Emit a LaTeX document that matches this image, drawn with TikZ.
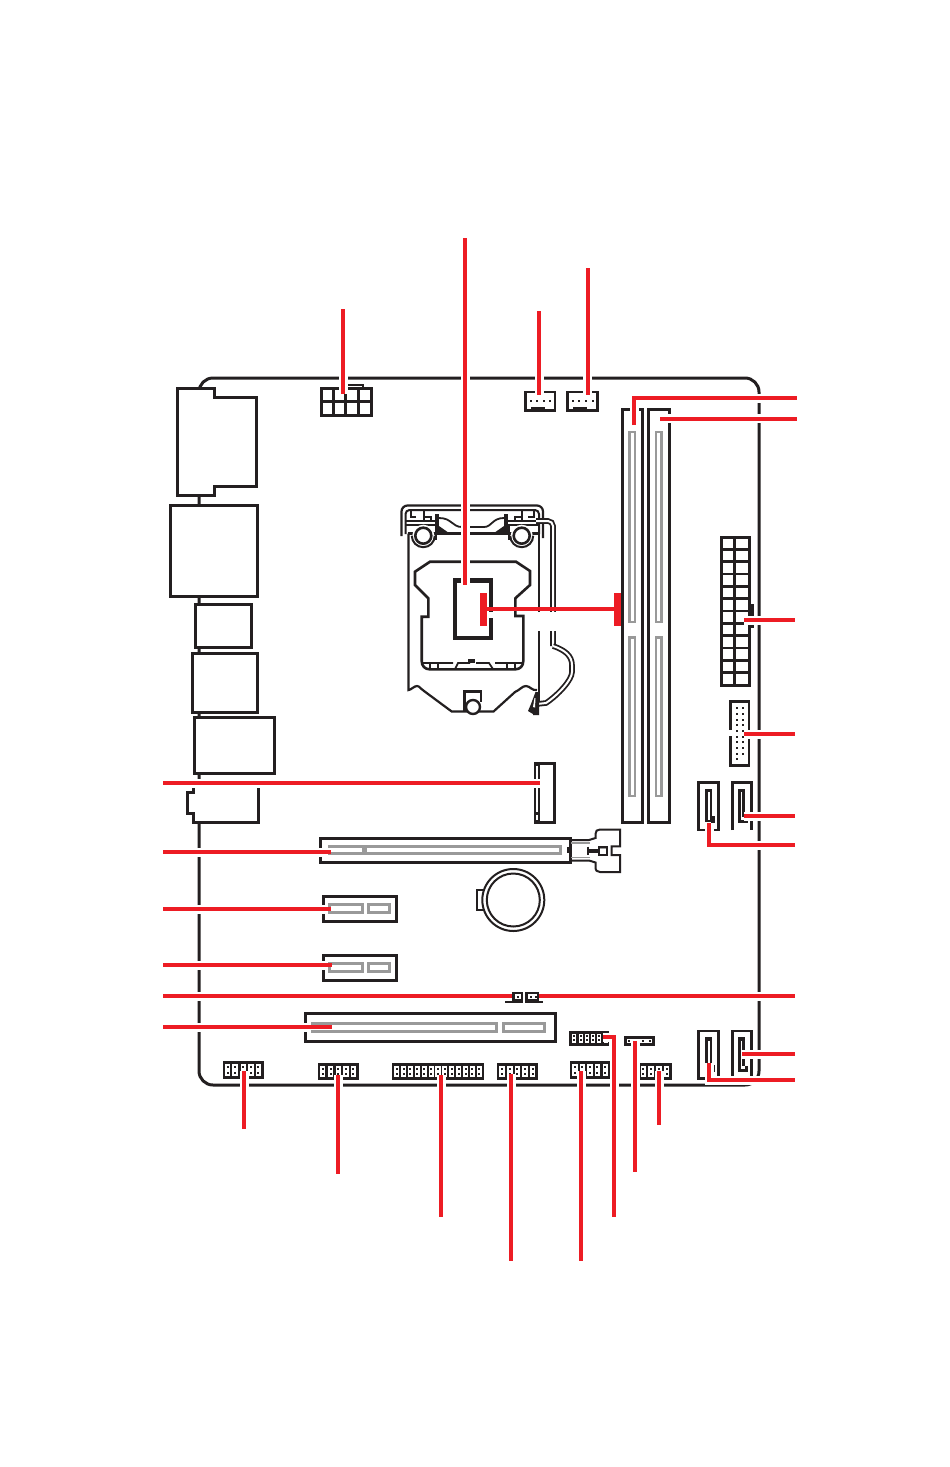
\documentclass[tikz,border=0pt]{standalone}
\definecolor{ink}{HTML}{231F20}
\definecolor{rail}{HTML}{999999}
\definecolor{lead}{HTML}{ED1C24}
\tikzset{
  x=1pt,y=-1pt,
  part/.style={draw=ink,line width=3pt,fill=white,miter limit=10},
  thin part/.style={draw=ink,line width=2.2pt},
  railbox/.style={draw=rail,line width=3pt},
  halo/.style={draw=white,line width=9pt},
  leadline/.style={draw=lead,line width=4pt},
  handle/.style={draw=ink,line width=1.8pt,double=white,double distance=2pt},
  pin/.style={fill=ink,draw=none},
}
\newcommand{\leadpath}[1]{\draw[halo] #1; \draw[leadline] #1;}
\newcommand{\slotp}[3]{\fill[white] (#1-2.6,#2) rectangle (#1+2.6,#3);
  \fill[pin] (#1-1,#2+2) rectangle (#1+1,#2+4);
  \fill[pin] (#1-1,#3-4) rectangle (#1+1,#3-2);}
\begin{document}
\begin{tikzpicture}
\useasboundingbox (0,0) rectangle (950,1467);
\fill[white] (0,0) rectangle (950,1467);
% board
\draw[draw=ink,line width=3pt,rounded corners=14pt] (199,700) -- (199,378) -- (759,378) -- (759,1085) -- (199,1085) -- cycle;
% rear IO
\draw[part] (177,388) -- (214.7,388) -- (214.7,397.5) -- (256,397.5) -- (256,486.7) -- (214.7,486.7) -- (214.7,495.7) -- (177,495.7) -- cycle;
\draw[part] (170,505.5) rectangle (257.7,596);
\draw[part] (195,604.5) rectangle (251.7,647.5);
\draw[part] (192.5,653.5) rectangle (257.7,712.7);
\draw[part] (194,717.5) rectangle (274.7,773.7);
\draw[part] (258.7,786) -- (258.7,822.3) -- (193,822.3) -- (193,813) -- (187,813) -- (187,792.3) -- (193,792.3) -- (193,786);
% 8-pin power
\draw[part] (321,388.3) rectangle (371,415.7);
\draw[thin part,line width=2.6pt] (321,401.7) -- (371,401.7) (333.3,388.3) -- (333.3,415.7) (345.7,388.3) -- (345.7,415.7) (358.3,388.3) -- (358.3,415.7);
\draw[thin part] (345.7,388) -- (345.7,384.7) -- (363,384.7) -- (363,388);
% fan headers
\foreach \xa/\xb/\ba/\bb/\pa/\pb/\pc/\pd in {525.7/555/530.7/545/530.7/537.3/544/550.3, 567.7/597.3/572.7/586.7/572.7/579.3/586/592.7}{
  \draw[part,line width=2.6pt] (\xa,392) rectangle (\xb,410.5);
  \fill[ink] (\ba,406.5) rectangle (\bb,410.5);
  \foreach \p in {\pa,\pb,\pc,\pd} \fill[pin] (\p-1,399.7) rectangle (\p+1,401.7);
}
% DIMM slots
\draw[part] (622.5,409) rectangle (642.7,822.3);
\draw[part] (648.3,409) rectangle (669.3,822.3);
\foreach \a/\b in {628.3/636,655/662.7}{
  \draw[railbox,line width=2.6pt] (\a+1,432) rectangle (\b-1,622);
  \draw[railbox,line width=2.6pt] (\a+1,796) -- (\a+1,637.5) -- (\b-1,637.5) -- (\b-1,796) -- cycle;
}
% ATX 24
\draw[thin part,line width=2.6pt] (749.3,605) -- (752.7,605) -- (752.7,626.7) -- (749.3,626.7);
\draw[part] (721.5,537) rectangle (749.3,685);
\foreach \i in {1,...,11} \draw[draw=ink,line width=2.6pt] (721.5,537+12.33*\i) -- (749.3,537+12.33*\i);
\draw[draw=ink,line width=2.6pt] (734.5,537) -- (734.5,685);
% front USB 3
\draw[part,line width=2.8pt] (730.5,701.5) rectangle (749,765.5);
\fill[white] (728,730) rectangle (733,736);
\foreach \i in {0,...,9} \fill[pin] (736,707.3+5.68*\i) rectangle (738,709.3+5.68*\i);
\foreach \i in {0,...,8} \fill[pin] (741.5,707.3+5.68*\i) rectangle (743.5,709.3+5.68*\i);
% SATA connectors
\foreach \y in {0,248.5}{
  \draw[part,fill=white,line width=2.8pt] (698.8,830+\y) -- (698.8,782.5+\y) -- (718.8,782.5+\y) -- (718.8,830+\y) -- cycle;
  \fill[ink] (705,788.7+\y) rectangle (712,822+\y);
  \fill[white] (708,792+\y) rectangle (709.5,820+\y);
  \fill[ink] (711,816+\y) rectangle (714.5,823+\y);
  \draw[part,fill=white,line width=2.8pt] (732.8,830+\y) -- (732.8,782.5+\y) -- (751.5,782.5+\y) -- (751.5,830+\y);
  \fill[ink] (738,788.7+\y) rectangle (744.5,823+\y);
  \fill[white] (740.5,792+\y) rectangle (742,820+\y);
  \fill[ink] (744,817+\y) rectangle (748,823+\y);
  \fill[white] (742,817+\y) rectangle (744.5,820+\y);
}
% M.2
\draw[part] (535.5,763) rectangle (554.5,822.3);
\fill[ink] (534,762) rectangle (539.5,823.5);
\fill[white] (536,766) rectangle (538,820);
\fill[ink] (535,812) rectangle (539,814.5);
% CPU socket
\draw[thin part,line width=2.2pt,rounded corners=6pt] (401.5,536) -- (401.5,505.5) -- (543,505.5) -- (543,538);
\draw[thin part,line width=2pt,rounded corners=4pt] (405.5,534) -- (405.5,510) -- (539,510) -- (539,534);
\draw[thin part,line width=2.2pt] (408.5,533.5) -- (408.5,690) .. controls (411,690) and (414,686) .. (417,686) .. controls (420,686) and (421,690) .. (424,691) -- (451.7,711.5) -- (493.5,711.5) -- (515,692) .. controls (520,690) and (522,686) .. (526,686) .. controls (530,686) and (532,691) .. (537,690);
\draw[thin part,line width=2.2pt] (539,533.5) -- (539,705);
\draw[thin part,line width=2.2pt] (408,533.5) -- (416,533.5) (432,533.5) -- (513,533.5) (531,533.5) -- (540,533.5);
\draw[thin part,line width=2pt] (405,521) -- (437,521) (506,521) -- (540,521);
\draw[thin part,line width=2pt] (405,525) -- (437,525) (506,525) -- (540,525);
\draw[thin part,line width=2pt] (410.5,510) -- (410.5,517) -- (416,517) (424,510) -- (424,522) (423,517) -- (431,517) -- (431,522);
\draw[thin part,line width=2pt] (522,510) -- (522,522) (522,517) -- (515,517) -- (515,522) (534,510) -- (534,517) -- (528,517);
\fill[ink] (435,514) rectangle (439,532);
\fill[ink] (504,514) rectangle (508,532);
\fill[ink] (439,526) -- (449,533) -- (439,533) -- cycle;
\fill[ink] (504,526) -- (494,533) -- (504,533) -- cycle;
\draw[thin part,line width=1.8pt] (439,518) .. controls (452,518) and (452,527) .. (462,527) -- (484,527) .. controls (492,527) and (492,518) .. (504,518);
\foreach \c in {423.3,521.7}{
  \fill[white] (\c,535.7) circle[radius=11];
  \draw[thin part,fill=white,line width=2.6pt] (\c,535.7) circle[radius=8];
  \draw[thin part,line width=2pt] (\c-11.5,535.7) arc[start angle=180,end angle=0,radius=11.5];
}
\draw[thin part,line width=2pt] (436,525) -- (436,540) (509,525) -- (509,540);
\draw[handle,rounded corners=5pt] (536,521) -- (553,521) -- (553,646);
\draw[handle] (553,646) .. controls (565,650) and (572,656) .. (572,665) -- (572,672) .. controls (572,680) and (558,695) .. (546,703) -- (537,704);
\draw[thin part,line width=2.6pt,line join=miter,rounded corners=0pt] (430,561.7) -- (516,561.7) -- (530,571) -- (530,585) -- (515.3,598.3) -- (515.3,616) -- (523.3,616) -- (523.3,661) .. controls (523.3,666) and (520,669.3) .. (515.3,669.3) -- (429.7,669.3) .. controls (425,669.3) and (421.7,666) .. (421.7,661) -- (421.7,616.7) -- (428.3,616.7) -- (428.3,598.3) -- (415,585) -- (415,571.7) -- cycle;
\draw[thin part,line width=1.8pt] (422,663) -- (453,663) (455,669) -- (458,663) -- (470,663) (476,663) -- (489,663) -- (493,669) (495,663) -- (523,663) (430,663) -- (430,669) (438,663) -- (438,669) (507,663) -- (507,669) (515,663) -- (515,669);
\fill[ink] (468,659) rectangle (475,663);
\draw[draw=ink,line width=4.5pt] (455,580.5) rectangle (491.2,638);
\draw[thin part,line width=2.4pt] (464.5,711) -- (464.5,691.5) -- (481,691.5) -- (481,702);
\draw[thin part,fill=white,line width=2.4pt] (473,707) circle[radius=7];
\fill[ink] (535.5,692) -- (531,704) -- (528,711) -- (533,714) -- (533,715) -- (539,715) -- (539,692) -- cycle;
\fill[white] (534.5,698) -- (533,707) -- (535,707.5) -- (535.5,698) -- cycle;
% PCIe x16
\draw[part] (320.5,838.5) rectangle (570.5,862.5);
\draw[railbox,line width=2.8pt] (328.3,846.7) -- (560.5,846.7) -- (560.5,853.3) -- (328.3,853.3);
\fill[rail] (361.5,846) rectangle (367,853.5);
\fill[ink] (567,847) rectangle (571,853);
\draw[rail,line width=1.5pt] (571,843) -- (590,843) (571,857.5) -- (590,857.5) (598,848) -- (607,848);
\draw[thin part,line width=2pt] (571,840) -- (589,840) -- (595.5,838) -- (595.5,834) .. controls (595.5,831) and (597,829.5) .. (600,829.5) -- (620,829.5) -- (620,846.3) -- (611.5,846.3) -- (611.5,855) -- (620,855) -- (620,872) -- (600,872) .. controls (597,872) and (595.5,870.5) .. (595.5,867) -- (595.5,862.5) -- (589,860.5) -- (571,860.5);
\draw[thin part,line width=2pt] (588,846.5) -- (588,855);
\draw[thin part,line width=2pt] (588,849.7) -- (598.5,849.7) (588,852.3) -- (598.5,852.3);
\draw[thin part,line width=2pt] (598.5,846.5) rectangle (607.3,855);
% battery
\draw[thin part,line width=2pt] (485,889.5) -- (477,889.5) -- (477,910) -- (485,910);
\draw[draw=ink,line width=2pt,fill=white] (513.3,900) circle[radius=31];
\draw[draw=ink,line width=2pt] (513.3,900) circle[radius=26.5];
% PCIe x1
\foreach \y in {896.5,955.5}{
  \draw[part] (323.5,\y) rectangle (396.5,\y+24.5);
  \draw[railbox,line width=2.4pt] (329.5,\y+8) rectangle (362.5,\y+16);
  \draw[railbox,line width=2.4pt] (368.5,\y+8) rectangle (389.5,\y+16);
}
% PCI
\draw[part] (305.5,1013.5) rectangle (555.5,1041.5);
\draw[railbox] (311,1023) -- (496,1023) -- (496,1031) -- (311,1031);
\draw[railbox] (503,1023) rectangle (544.5,1031);
% jumper
\fill[ink] (512,991.7) rectangle (522.7,1002);
\fill[ink] (505,999) rectangle (522.7,1003);
\fill[ink] (525,991.7) rectangle (539,1002);
\fill[ink] (525,999) rectangle (542.5,1003);
\fill[white] (514.5,994) rectangle (520.5,999);
\fill[white] (527.5,994) rectangle (537,999);
\fill[pin] (516.5,995.5) rectangle (518.5,997.5);
\fill[pin] (529.5,995.5) rectangle (531.5,997.5);
\fill[pin] (535,995.5) rectangle (537,997.5);
% headers
\fill[ink] (223.3,1061) rectangle (264,1079);
\foreach \c in {227.7,235,243.3,251,258.3} \slotp{\c}{1064}{1076}
\fill[ink] (318.3,1063) rectangle (359,1080);
\foreach \c in {322.7,330.7,338.3,346,353.3} \slotp{\c}{1066}{1077}
\fill[ink] (392.3,1063) rectangle (484,1080);
\foreach \i in {0,...,12} {\pgfmathsetmacro{\c}{396.7+6.88*\i}\slotp{\c}{1066}{1077}}
\fill[ink] (497.3,1063) rectangle (538,1080);
\foreach \c in {502,510,517.3,525,532.7} \slotp{\c}{1066}{1077}
\fill[ink] (570,1061) rectangle (610,1079);
\foreach \c in {575,582.3,590,597.3,605.3} \slotp{\c}{1064}{1076}
\fill[ink] (569,1031) rectangle (609,1046);
\foreach \c in {574,581,586.7,592.7,599,605.7} {\fill[white] (\c-1.8,1034) rectangle (\c+1.8,1043);\fill[pin] (\c-.8,1035) rectangle (\c+.8,1037);\fill[pin] (\c-.8,1039) rectangle (\c+.8,1041);}
\fill[ink] (624,1036) rectangle (655,1046);
\fill[white] (627.3,1038.7) rectangle (652,1043.3);
\foreach \c in {629,643.3,650} \fill[pin] (\c-1,1040) rectangle (\c+1,1042);
\fill[ink] (638,1063) rectangle (672,1080);
\foreach \c in {643.3,651,659,666.7} \slotp{\c}{1066}{1077}
% leaders
\coordinate (cpuT) at (465,238); \coordinate (cpuE) at (465,585);
\leadpath{(cpuT) -- (cpuE)}
\coordinate (teeL) at (484,609.3); \coordinate (teeR) at (617,609.3);
\fill[white] (536,612) rectangle (556,631);
\fill[white] (488,612) rectangle (494,618);
\draw[leadline] (teeL) -- (teeR);
\fill[lead] (480,593.3) rectangle (486.7,626);
\fill[lead] (614,593.3) rectangle (621,626);
\coordinate (pwrT) at (343,309); \coordinate (pwrE) at (343,394);
\leadpath{(pwrT) -- (pwrE)}
\coordinate (fa) at (539,311); \coordinate (fb) at (539,395);
\leadpath{(fa) -- (fb)}
\coordinate (fc) at (587.5,268); \coordinate (fd) at (587.5,395);
\leadpath{(fc) -- (fd)}
\coordinate (da) at (634,425); \coordinate (db) at (634,398); \coordinate (dc) at (797,398);
\leadpath{(da) -- (db) -- (dc)}
\coordinate (dd) at (660,418.5); \coordinate (de) at (797,418.5);
\leadpath{(dd) -- (de)}
\coordinate (atxA) at (744,620); \coordinate (atxB) at (795,620);
\leadpath{(atxA) -- (atxB)}
\coordinate (usbA) at (744,734); \coordinate (usbB) at (795,734);
\leadpath{(usbA) -- (usbB)}
\coordinate (saA) at (744,816); \coordinate (saB) at (795,816);
\leadpath{(saA) -- (saB)}
\coordinate (sbA) at (709,823); \coordinate (sbB) at (709,845); \coordinate (sbC) at (795,845);
\leadpath{(sbA) -- (sbB) -- (sbC)}
\coordinate (scA) at (742,1054); \coordinate (scB) at (795,1054);
\leadpath{(scA) -- (scB)}
\coordinate (sdA) at (709,1063); \coordinate (sdB) at (709,1080); \coordinate (sdC) at (795,1080);
\leadpath{(sdA) -- (sdB) -- (sdC)}
\coordinate (jbA) at (539,996); \coordinate (jbB) at (795,996);
\leadpath{(jbA) -- (jbB)}
\coordinate (jcA) at (163,996); \coordinate (jcB) at (511.5,996);
\leadpath{(jcA) -- (jcB)}
\coordinate (m2A) at (163,783); \coordinate (m2B) at (540,783);
\leadpath{(m2A) -- (m2B)}
\coordinate (pcaA) at (163,852); \coordinate (pcaH) at (323,852); \coordinate (pcaB) at (331,852);
\draw[halo] (pcaA) -- (pcaH); \draw[leadline] (pcaA) -- (pcaB);
\coordinate (pcbA) at (163,909); \coordinate (pcbH) at (327,909); \coordinate (pcbB) at (331,909);
\draw[halo] (pcbA) -- (pcbH); \draw[leadline] (pcbA) -- (pcbB);
\coordinate (pccA) at (163,965); \coordinate (pccH) at (327,965); \coordinate (pccB) at (332,965);
\draw[halo] (pccA) -- (pccH); \draw[leadline] (pccA) -- (pccB);
\coordinate (pcdA) at (163,1027); \coordinate (pcdH) at (309,1027); \coordinate (pcdB) at (332,1027);
\draw[halo] (pcdA) -- (pcdH); \draw[leadline] (pcdA) -- (pcdB);
\coordinate (haA) at (244,1071); \coordinate (haB) at (244,1129);
\leadpath{(haA) -- (haB)}
\coordinate (hbA) at (338,1075); \coordinate (hbB) at (338,1174);
\leadpath{(hbA) -- (hbB)}
\coordinate (hcA) at (441,1075); \coordinate (hcB) at (441,1217);
\leadpath{(hcA) -- (hcB)}
\coordinate (hdA) at (511,1074); \coordinate (hdB) at (511,1261);
\leadpath{(hdA) -- (hdB)}
\coordinate (heA) at (581,1071); \coordinate (heB) at (581,1261);
\leadpath{(heA) -- (heB)}
\coordinate (hfA) at (603,1037); \coordinate (hfB) at (614,1037); \coordinate (hfC) at (614,1217);
\leadpath{(hfA) -- (hfB) -- (hfC)}
\coordinate (hgA) at (635,1041); \coordinate (hgB) at (635,1172);
\leadpath{(hgA) -- (hgB)}
\coordinate (hhA) at (659,1071); \coordinate (hhB) at (659,1125);
\leadpath{(hhA) -- (hhB)}
\end{tikzpicture}
\end{document}
